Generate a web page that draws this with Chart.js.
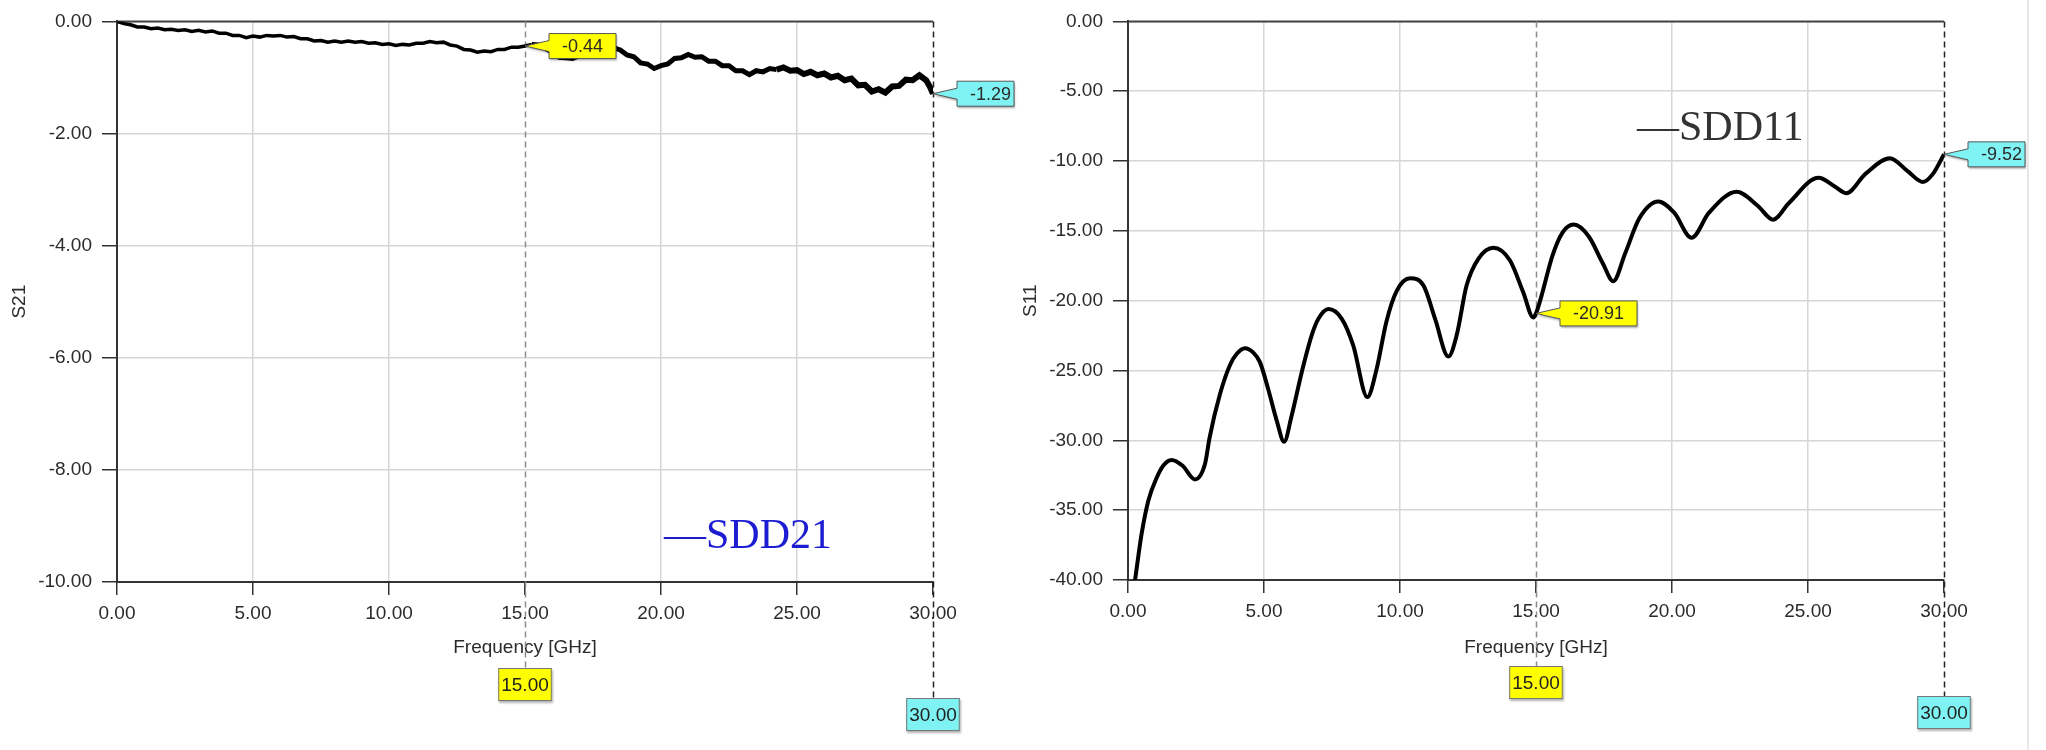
<!DOCTYPE html>
<html>
<head>
<meta charset="utf-8">
<script src="https://cdn.jsdelivr.net/npm/chart.js@4.4.1/dist/chart.umd.min.js"></script>
<style>
  body { margin: 0; background: #fff; width: 2046px; height: 750px; overflow: hidden; position: relative; }
  canvas { position: absolute; top: 0; }
  #left { left: 0; }
  #right { left: 1011px; }
  #edge { position: absolute; left: 2027px; top: 0; width: 2px; height: 750px; background: #e8e8e8; }
</style>
</head>
<body>
<canvas id="left" width="1023" height="750"></canvas>
<canvas id="right" width="1035" height="750"></canvas>
<div id="edge"></div>
<script>
// SDD21 (dB)
const s21Freq = [0, 0.25, 0.5, 0.75, 1, 1.25, 1.5, 1.75, 2, 2.25, 2.5, 2.75, 3, 3.25, 3.5, 3.75,
  4, 4.25, 4.5, 4.75, 5, 5.25, 5.5, 5.75, 6, 6.25, 6.5, 6.75, 7, 7.25, 7.5, 7.75,
  8, 8.25, 8.5, 8.75, 9, 9.25, 9.5, 9.75, 10, 10.25, 10.5, 10.75, 11, 11.25, 11.5, 11.75,
  12, 12.25, 12.5, 12.75, 13, 13.25, 13.5, 13.75, 14, 14.25, 14.5, 14.75, 15, 15.25, 15.5, 15.75,
  16, 16.25, 16.5, 16.75, 17, 17.25, 17.5, 17.75, 18, 18.25, 18.5, 18.75, 19, 19.25, 19.5, 19.75,
  20, 20.25, 20.5, 20.75, 21, 21.25, 21.5, 21.75, 22, 22.25, 22.5, 22.75, 23, 23.25, 23.5, 23.75,
  24, 24.25, 24.5, 24.75, 25, 25.25, 25.5, 25.75, 26, 26.25, 26.5, 26.75, 27, 27.25, 27.5, 27.75,
  28, 28.25, 28.5, 28.75, 29, 29.25, 29.5, 29.75, 29.9, 30];
const s21Val = [0.00, -0.04, -0.06, -0.10, -0.10, -0.13, -0.12, -0.15, -0.14, -0.16, -0.15, -0.18, -0.16, -0.19, -0.17, -0.21,
  -0.21, -0.25, -0.25, -0.29, -0.26, -0.28, -0.25, -0.26, -0.25, -0.28, -0.27, -0.31, -0.31, -0.35, -0.34, -0.37,
  -0.35, -0.37, -0.35, -0.37, -0.36, -0.39, -0.38, -0.41, -0.40, -0.43, -0.41, -0.42, -0.39, -0.39, -0.36, -0.38,
  -0.37, -0.42, -0.44, -0.50, -0.51, -0.55, -0.53, -0.54, -0.50, -0.50, -0.46, -0.46, -0.44, -0.41, -0.42, -0.48,
  -0.55, -0.64, -0.65, -0.66, -0.61, -0.56, -0.48, -0.46, -0.43, -0.47, -0.51, -0.60, -0.63, -0.74, -0.76, -0.84,
  -0.79, -0.76, -0.66, -0.65, -0.59, -0.64, -0.63, -0.71, -0.71, -0.79, -0.79, -0.88, -0.88, -0.95, -0.88, -0.90,
  -0.84, -0.86, -0.82, -0.88, -0.87, -0.94, -0.90, -0.96, -0.93, -1.00, -0.97, -1.05, -1.02, -1.14, -1.13, -1.25,
  -1.21, -1.27, -1.16, -1.15, -1.04, -1.05, -0.96, -1.05, -1.18, -1.29];

// SDD11 (dB)
const s11Freq = [0.26, 0.5, 0.75, 1.05, 1.3, 1.6, 2.0, 2.46, 2.83, 3.0, 3.38, 3.75, 4.0, 4.3, 4.6, 4.85,
  5.15, 5.47, 5.74, 6.02, 6.39, 6.75, 7.0, 7.37, 7.86, 8.28, 8.8, 9.14, 9.5, 9.88, 10.37, 10.86,
  11.29, 11.78, 12.08, 12.45, 12.88, 13.43, 14.04, 14.53, 14.9, 15.0, 15.21, 15.6, 15.98, 16.39, 16.94, 17.45,
  17.84, 18.28, 18.8, 19.5, 20.08, 20.72, 21.36, 22.38, 23.15, 23.72, 24.3, 25.39, 25.97, 26.41, 27.12, 28.01,
  28.65, 29.23, 29.6, 30.0];
const s11Val = [-40, -36.7, -34.3, -32.7, -31.8, -31.4, -31.8, -32.8, -31.7, -29.8, -26.7, -24.6, -23.8, -23.4, -23.7, -24.4,
  -26.3, -28.6, -30.1, -28.2, -25.1, -22.5, -21.3, -20.6, -21.3, -23.2, -26.9, -24.9, -21.5, -19.3, -18.4, -18.9,
  -21.3, -24.0, -22.5, -18.9, -17.0, -16.2, -17.1, -19.4, -21.2, -20.91, -19.6, -16.8, -15.1, -14.55, -15.4, -17.3,
  -18.6, -16.6, -14.1, -12.9, -13.7, -15.5, -13.7, -12.2, -13.2, -14.2, -13.0, -11.2, -11.8, -12.3, -10.9, -9.8,
  -10.7, -11.5, -10.9, -9.52];

const xTicks = [0, 5, 10, 15, 20, 25, 30];
const s21Ticks = [0, -2, -4, -6, -8, -10];
const s11Ticks = [0, -5, -10, -15, -20, -25, -30, -35, -40];

// marker 1 (yellow) and marker 2 (cyan)
const markerFreq = [15, 30];
const s21Markers = [-0.44, -1.29];
const s11Markers = [-20.91, -9.52];

const FONT = '"Liberation Sans", Arial, sans-serif';
const TEXT = '#2b2b2b';
const markerFill = ['#ffff00', '#7ff3f3'];

function callout(ctx, tipX, tipY, text, i) {
  ctx.font = '18px ' + FONT;
  const tw = ctx.measureText(text).width;
  const h = 25, bx = tipX + 24, by = tipY - h / 2;
  const w = i === 0 ? tw + 26 : tw + 16;
  ctx.beginPath();
  ctx.moveTo(tipX, tipY);
  ctx.lineTo(bx, by + 7);
  ctx.lineTo(bx, by);
  ctx.lineTo(bx + w, by);
  ctx.lineTo(bx + w, by + h);
  ctx.lineTo(bx, by + h);
  ctx.lineTo(bx, by + h - 7);
  ctx.closePath();
  ctx.save();
  ctx.shadowColor = 'rgba(0,0,0,0.3)';
  ctx.shadowOffsetX = 1;
  ctx.shadowOffsetY = 2;
  ctx.shadowBlur = 2;
  ctx.fillStyle = markerFill[i];
  ctx.fill();
  ctx.restore();
  ctx.strokeStyle = '#555';
  ctx.lineWidth = 1;
  ctx.stroke();
  ctx.fillStyle = TEXT;
  ctx.textBaseline = 'middle';
  if (i === 0) {
    ctx.textAlign = 'center';
    ctx.fillText(text, bx + w / 2, tipY + 1);
  } else {
    ctx.textAlign = 'right';
    ctx.fillText(text, bx + w - 3, tipY + 1);
  }
}

function xBox(ctx, cx, top, text, i) {
  ctx.font = '19px ' + FONT;
  const tw = ctx.measureText(text).width;
  const w = tw + 6, h = 33;
  ctx.save();
  ctx.shadowColor = 'rgba(0,0,0,0.3)';
  ctx.shadowOffsetX = 1;
  ctx.shadowOffsetY = 2;
  ctx.shadowBlur = 2;
  ctx.fillStyle = markerFill[i];
  ctx.fillRect(cx - w / 2, top, w, h);
  ctx.restore();
  ctx.strokeStyle = '#777';
  ctx.lineWidth = 1;
  ctx.strokeRect(cx - w / 2 + 0.5, top + 0.5, w - 1, h - 1);
  ctx.fillStyle = '#222';
  ctx.textAlign = 'center';
  ctx.textBaseline = 'middle';
  ctx.fillText(text, cx, top + h / 2 + 1);
}

const markerPlugin = {
  id: 'markers',
  beforeDatasetsDraw(chart, args, opts) {
    const { ctx, chartArea: a, scales: { x } } = chart;
    ctx.save();
    ctx.strokeStyle = '#444';
    ctx.lineWidth = 2;
    ctx.beginPath();
    ctx.moveTo(a.left, a.top);
    ctx.lineTo(a.right, a.top);
    ctx.stroke();
    markerFreq.forEach((f, i) => {
      const px = Math.round(x.getPixelForValue(f)) + 0.5;
      ctx.strokeStyle = i === 0 ? '#8c8c8c' : '#222';
      ctx.lineWidth = 1.5;
      ctx.setLineDash([6, 4]);
      ctx.beginPath();
      ctx.moveTo(px, a.top);
      ctx.lineTo(px, a.bottom + (i === 0 ? 86 : 116));
      ctx.stroke();
    });
    ctx.restore();
  },
  afterDraw(chart, args, opts) {
    const { ctx, chartArea: a, scales: { x, y } } = chart;
    ctx.save();
    markerFreq.forEach((f, i) => {
      const px = x.getPixelForValue(f);
      callout(ctx, px, y.getPixelForValue(opts.values[i]), opts.values[i].toFixed(2), i);
      xBox(ctx, px, a.bottom + (i === 0 ? 86 : 116), f.toFixed(2), i);
    });
    ctx.font = '42px "Liberation Serif", "Times New Roman", serif';
    ctx.fillStyle = opts.legendColor;
    ctx.textAlign = 'left';
    ctx.textBaseline = 'alphabetic';
    ctx.fillText(opts.legend, opts.legendX, opts.legendY);
    ctx.restore();
  }
};

function makeChart(id, freq, vals, yTicks, yTitle, plotTop, plotBottom, marks) {
  const canvas = document.getElementById(id);
  const ctx = canvas.getContext('2d');
  const isS21 = id === 'left';
  return new Chart(ctx, {
    type: 'line',
    data: {
      datasets: [{
        data: freq.map((f, i) => ({ x: f, y: vals[i] })),
        borderColor: '#000',
        borderWidth: isS21 ? 3.5 : 4,
        pointRadius: 0,
        tension: isS21 ? 0 : 0.4,
        cubicInterpolationMode: isS21 ? 'default' : 'monotone',
        segment: isS21 ? { borderWidth: c => (c.p0.parsed.x > 24 ? 6 : c.p0.parsed.x > 15 ? 5 : 3.5) } : {},
        fill: false
      }]
    },
    options: {
      responsive: false,
      animation: false,
      devicePixelRatio: 1,
      layout: { padding: { top: plotTop, right: canvas.width - 933, left: 0, bottom: 0 } },
      plugins: {
        legend: { display: false },
        tooltip: { enabled: false },
        markers: marks
      },
      scales: {
        x: {
          type: 'linear',
          min: 0,
          max: 30,
          afterBuildTicks: s => { s.ticks = xTicks.map(v => ({ value: v })); },
          afterFit: s => { s.height = 750 - plotBottom; },
          ticks: {
            color: TEXT,
            font: { family: FONT, size: 19 },
            padding: 7,
            maxRotation: 0,
            callback: v => v.toFixed(2)
          },
          grid: {
            color: c => (c.tick && (c.tick.value === 15 || c.tick.value === 30) ? 'rgba(0,0,0,0)' : '#d6d6d6'),
            lineWidth: 1.5,
            tickColor: '#333',
            tickLength: 13,
            tickWidth: 1.5
          },
          border: { color: '#333', width: 2 },
          title: {
            display: true,
            text: 'Frequency [GHz]',
            color: TEXT,
            font: { family: FONT, size: 19 },
            padding: { top: 0, bottom: 91 }
          }
        },
        y: {
          type: 'linear',
          min: yTicks[yTicks.length - 1],
          max: yTicks[0],
          afterBuildTicks: s => { s.ticks = yTicks.map(v => ({ value: v })); },
          afterFit: s => { s.width = 117; },
          ticks: {
            color: TEXT,
            font: { family: FONT, size: 19 },
            padding: 10,
            callback: v => v.toFixed(2)
          },
          grid: {
            color: '#d6d6d6',
            lineWidth: 1.5,
            tickColor: '#333',
            tickLength: 15,
            tickWidth: 1.5
          },
          border: { color: '#333', width: 2 },
          title: {
            display: true,
            text: yTitle,
            color: TEXT,
            font: { family: FONT, size: 19 },
            padding: { top: 8, bottom: 0 }
          }
        }
      }
    },
    plugins: [markerPlugin]
  });
}

makeChart('left', s21Freq, s21Val, s21Ticks, 'S21', 19, 582,
  { values: s21Markers, legend: '—SDD21', legendColor: '#1c1cd2', legendX: 664, legendY: 548 });
makeChart('right', s11Freq, s11Val, s11Ticks, 'S11', 17, 580,
  { values: s11Markers, legend: '—SDD11', legendColor: '#333', legendX: 626, legendY: 140 });
</script>
</body>
</html>
